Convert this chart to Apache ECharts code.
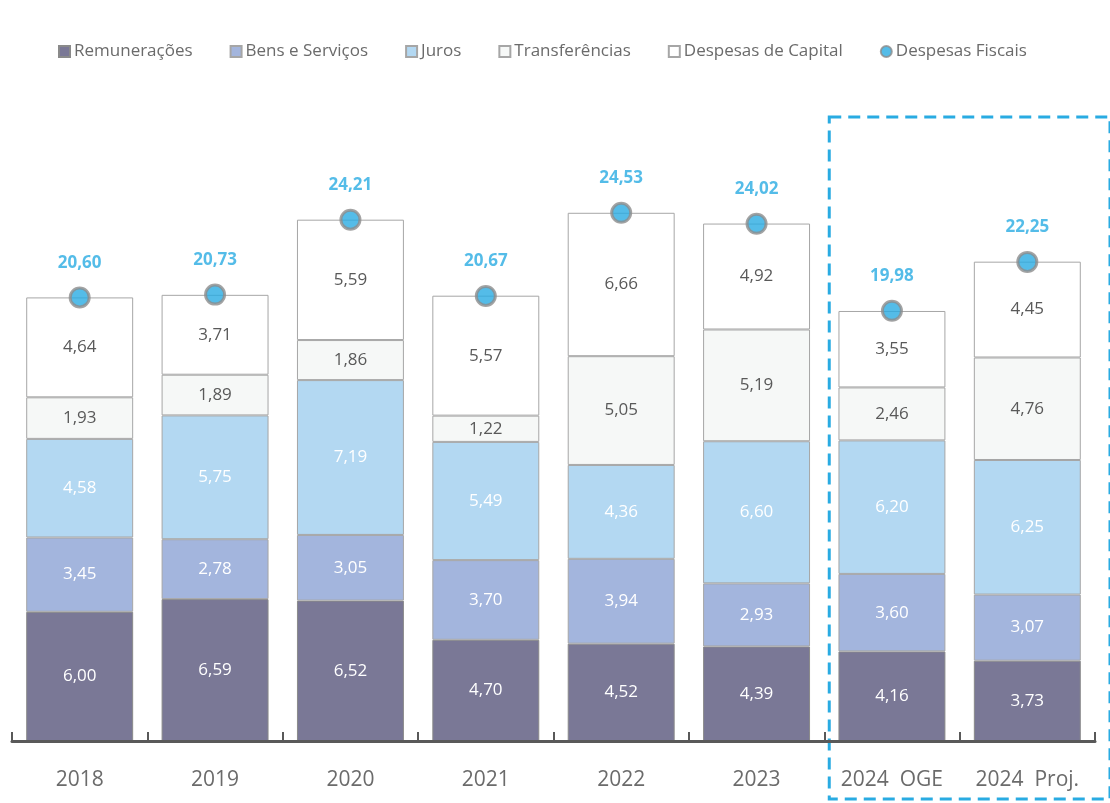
<!DOCTYPE html>
<html lang="pt">
<head>
    <meta charset="UTF-8">
    <title>Despesas Fiscais</title>
    <style>
        html, body { margin: 0; padding: 0; background: #fff; }
    </style>
</head>
<body>
    <div id="chart" style="width:1110px; height:803px"></div>

    <script src="https://cdn.jsdelivr.net/npm/echarts@6/dist/echarts.min.js"></script>
    <script>
        // categorias e valores (% do PIB)
        const anos = ['2018', '2019', '2020', '2021', '2022', '2023', '2024  OGE', '2024  Proj.'];
        const remuneracoes = [6.00, 6.59, 6.52, 4.70, 4.52, 4.39, 4.16, 3.73];
        const bensServicos = [3.45, 2.78, 3.05, 3.70, 3.94, 2.93, 3.60, 3.07];
        const juros = [4.58, 5.75, 7.19, 5.49, 4.36, 6.60, 6.20, 6.25];
        const transferencias = [1.93, 1.89, 1.86, 1.22, 5.05, 5.19, 2.46, 4.76];
        const despCapital = [4.64, 3.71, 5.59, 5.57, 6.66, 4.92, 3.55, 4.45];
        const despFiscais = [20.60, 20.73, 24.21, 20.67, 24.53, 24.02, 19.98, 22.25];

        const fonte = '"Open Sans", "Noto Sans", sans-serif';
        const fmt = (p) => p.value.toFixed(2).replace('.', ',');

        const chart = echarts.init(document.getElementById('chart'));

        // serie empilhada
        const barra = (nome, dados, cor, corTexto, borda) => ({
            name: nome,
            type: 'bar',
            stack: 'total',
            data: dados,
            barCategoryGap: '21%',
            itemStyle: { color: cor, borderColor: borda || '#a6a6a6', borderWidth: 1 },
            label: {
                show: true,
                position: 'inside',
                formatter: fmt,
                color: corTexto,
                fontFamily: fonte,
                fontSize: 17
            },
            emphasis: { disabled: true }
        });

        chart.setOption({
            animation: false,
            textStyle: { fontFamily: fonte },
            legend: {
                top: 38,
                left: 53,
                itemWidth: 11,
                itemHeight: 11,
                itemGap: 37,
                textStyle: { color: '#6b6b6b', fontSize: 17, fontFamily: fonte, padding: [0, 0, 0, -1] },
                data: [
                    { name: 'Remunerações', icon: 'rect' },
                    { name: 'Bens e Serviços', icon: 'rect' },
                    { name: 'Juros', icon: 'rect' },
                    { name: 'Transferências', icon: 'rect' },
                    { name: 'Despesas de Capital', icon: 'rect' },
                    { name: 'Despesas Fiscais', icon: 'circle' }
                ]
            },
            grid: { left: 12, right: 15, top: 95, bottom: 62 },
            xAxis: {
                type: 'category',
                data: anos,
                z: 10,
                axisLine: { lineStyle: { color: '#595959', width: 3 } },
                axisTick: { show: true, inside: true, length: 9, lineStyle: { color: '#595959', width: 2 } },
                axisLabel: { color: '#6b6b6b', fontSize: 21, margin: 29, fontFamily: fonte }
            },
            yAxis: {
                type: 'value',
                min: 0,
                max: 30,
                show: false,
                splitLine: { show: false }
            },
            series: [
                barra('Remunerações', remuneracoes, '#7a7896', '#ffffff', '#8a8a8a'),
                barra('Bens e Serviços', bensServicos, '#a3b5dd', '#ffffff'),
                barra('Juros', juros, '#b3d8f2', '#ffffff'),
                barra('Transferências', transferencias, '#f6f8f7', '#595959'),
                barra('Despesas de Capital', despCapital, '#ffffff', '#595959'),
                {
                    name: 'Despesas Fiscais',
                    type: 'scatter',
                    data: despFiscais,
                    symbolSize: 19,
                    z: 5,
                    itemStyle: { color: '#29abe2', borderColor: '#8c8c8c', borderWidth: 3 },
                    label: {
                        show: true,
                        position: 'top',
                        distance: 15,
                        formatter: fmt,
                        color: '#29abe2',
                        fontWeight: 'bold',
                        fontSize: 17,
                        fontFamily: fonte
                    },
                    emphasis: { disabled: true }
                }
            ]
        });

        // moldura tracejada à volta das colunas de 2024
        const x0 = chart.convertToPixel({ xAxisIndex: 0 }, anos[6]);
        const x1 = chart.convertToPixel({ xAxisIndex: 0 }, anos[7]);
        const passo = x1 - x0;
        chart.setOption({
            graphic: [{
                type: 'rect',
                shape: { x: x0 - passo / 2 + 5, y: 117, width: passo * 2 + 10, height: 682 },
                style: { fill: 'none', stroke: '#29abe2', lineWidth: 3, lineDash: [12, 7] },
                silent: true
            }]
        });
    </script>
</body>
</html>
